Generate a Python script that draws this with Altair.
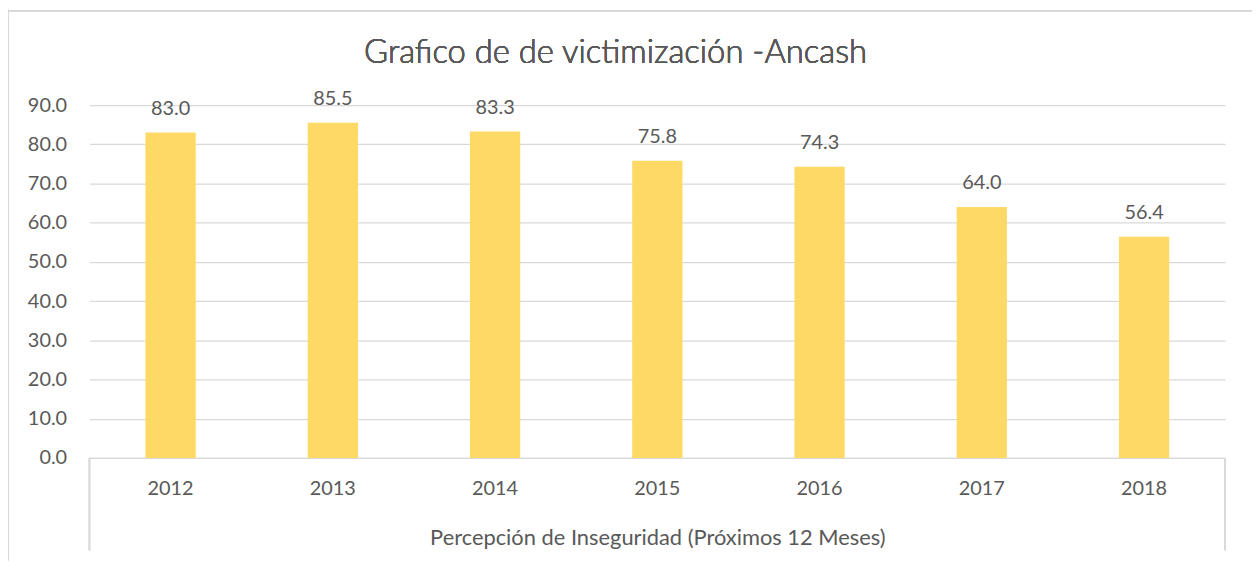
import altair as alt
import pandas as pd

years = ["2012", "2013", "2014", "2015", "2016", "2017", "2018"]
values = [83.0, 85.5, 83.3, 75.8, 74.3, 64.0, 56.4]
y_ticks = [0, 10, 20, 30, 40, 50, 60, 70, 80, 90]
title_text = "Grafico de de victimización -Ancash"
group_label = "Percepción de Inseguridad (Próximos 12 Meses)"

df = pd.DataFrame({"year": years, "value": values})

W, H = 1143, 355
FONT = "Lato"
GRAY = "#595959"
LINE = "#D9D9D9"
BAR = "#FFD966"
FS = 20

x_axis = alt.Axis(
    title=group_label, labelAngle=0, labelFontSize=FS, labelColor=GRAY, labelFont=FONT,
    labelBaseline="middle", labelPadding=31, ticks=False, labelOverlap=False,
    domainColor=LINE, domainWidth=1.3,
    titleFontSize=22, titleColor=GRAY, titleFont=FONT, titleFontWeight="normal",
    titleY=80, titleBaseline="middle",
)
y_axis = alt.Axis(
    title=None, values=y_ticks, format=".1f", labelFontSize=FS, labelColor=GRAY,
    labelFont=FONT, labelPadding=23, ticks=False, domain=False, labelOverlap=False,
    gridColor=LINE, gridWidth=1.3,
)
x_enc = alt.X("year:N", sort=years,
              scale=alt.Scale(paddingInner=0.69, paddingOuter=0.345), axis=x_axis)
y_enc = alt.Y("value:Q", scale=alt.Scale(domain=[0, 90], nice=False), axis=y_axis)

base = alt.Chart(df)
bars = base.mark_bar(color=BAR).encode(x=x_enc, y=y_enc)
labels = base.mark_text(
    baseline="alphabetic", dy=-18, fontSize=FS, font=FONT, color=GRAY, fontWeight="normal"
).encode(x=x_enc, y=y_enc, text=alt.Text("value:Q", format=".1f"))

title_mark = base.mark_text(
    baseline="alphabetic", align="center", fontSize=33, font=FONT, color=GRAY, fontWeight=300
).encode(x=alt.value(W / 2 - 42), y=alt.value(-42), text=alt.value(title_text))

sep_left = base.mark_rule(color=LINE, strokeWidth=1.3).encode(
    x=alt.value(0), y=alt.value(H), y2=alt.value(448))
sep_right = base.mark_rule(color=LINE, strokeWidth=1.3).encode(
    x=alt.value(W), y=alt.value(H), y2=alt.value(448))
border_left = base.mark_rule(color=LINE, strokeWidth=1.5).encode(
    x=alt.value(-82), y=alt.value(-96), y2=alt.value(458))
border_top = base.mark_rule(color=LINE, strokeWidth=1.5).encode(
    x=alt.value(-82), x2=alt.value(1170), y=alt.value(-95))

chart = alt.layer(bars, labels, title_mark, sep_left, sep_right, border_left, border_top).properties(
    width=W, height=H,
    autosize=alt.AutoSizeParams(type="none"),
    padding={"left": 82, "top": 96, "right": 27, "bottom": 103},
).configure(background="white").configure_view(stroke=None)

chart.save("out.html", embed_options={"renderer": "svg", "actions": False})
